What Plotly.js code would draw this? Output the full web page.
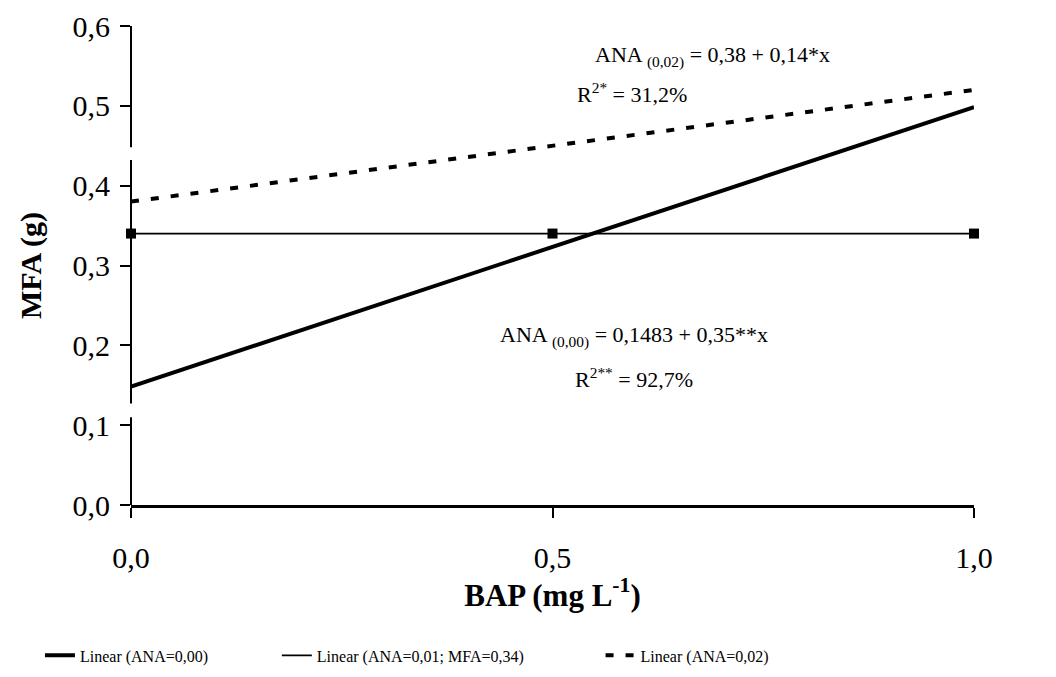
<!DOCTYPE html>
<html>
<head>
<meta charset="utf-8">
<script src="https://cdn.plot.ly/plotly-3.0.1.min.js"></script>
<style>
  html, body { margin: 0; padding: 0; background: #fff; }
  #chart { width: 1056px; height: 677px; }
</style>
</head>
<body>
<div id="chart"></div>
<script>
// BAP doses (mg L-1)
const bapDoses = [0, 0.5, 1.0];

// Fitted MFA (g) for each ANA level
const mfaAna000 = [0.1483, 0.3233, 0.4983];   // 0,1483 + 0,35x
const mfaAna001 = [0.34, 0.34, 0.34];         // mean 0,34
const mfaAna002 = [0.38, 0.45, 0.52];         // 0,38 + 0,14x

const seriesNames = [
  'Linear (ANA=0,00)',
  'Linear (ANA=0,01; MFA=0,34)',
  'Linear (ANA=0,02)'
];

const xTickVals = [0, 0.5, 1.0];
const xTickText = ['0,0', '0,5', '1,0'];
const yTickVals = [0, 0.1, 0.2, 0.3, 0.4, 0.5, 0.6];
const yTickText = ['0,0', '0,1', '0,2', '0,3', '0,4', '0,5', '0,6'];

const serif = 'Liberation Serif, Times New Roman, serif';
const legendFont = { family: serif, size: 16, color: '#000' };

const traces = [
  {
    x: bapDoses, y: mfaAna000, name: seriesNames[0], legend: 'legend',
    mode: 'lines', line: { color: '#000', width: 4 }
  },
  {
    x: bapDoses, y: mfaAna001, name: seriesNames[1], legend: 'legend2',
    mode: 'lines', line: { color: '#000', width: 1.8 }
  },
  {
    x: bapDoses, y: mfaAna002, name: seriesNames[2], legend: 'legend3',
    mode: 'lines', line: { color: '#000', width: 4, dash: '8px,12px' }
  },
  {
    // observed means at ANA=0,01
    x: bapDoses, y: mfaAna001, mode: 'markers', showlegend: false,
    marker: { symbol: 'square', size: 10, color: '#000' },
    cliponaxis: false
  }
];

function legendAt(xPos) {
  return {
    orientation: 'h', x: xPos, xanchor: 'left', y: -0.314, yanchor: 'middle',
    font: legendFont, bgcolor: 'rgba(0,0,0,0)'
  };
}

const layout = {
  width: 1056, height: 677,
  margin: { l: 131, r: 82, t: 26, b: 172, autoexpand: false },
  paper_bgcolor: '#fff', plot_bgcolor: '#fff',
  font: { family: serif, color: '#000' },
  showlegend: true,
  legend: legendAt(-0.108),
  legend2: legendAt(0.173),
  legend3: legendAt(0.557),
  xaxis: {
    range: [0, 1], tickvals: xTickVals, ticktext: xTickText,
    automargin: false,
    showgrid: false, zeroline: false,
    showline: true, linecolor: '#000', linewidth: 2.5,
    ticks: 'outside', ticklen: 10, tickwidth: 2, tickcolor: '#000',
    ticklabelstandoff: 14,
    tickfont: { family: serif, size: 30, color: '#000' },
    title: {
      text: '<b>BAP (mg L<sup>-1</sup>)</b>',
      font: { family: serif, size: 31, color: '#000' },
      standoff: 10
    }
  },
  yaxis: {
    range: [0, 0.6], tickvals: yTickVals, ticktext: yTickText,
    automargin: false,
    showgrid: false, zeroline: false, showline: false,
    ticks: 'outside', ticklen: 10, tickwidth: 2, tickcolor: '#000',
    ticklabelstandoff: 4,
    tickfont: { family: serif, size: 30, color: '#000' },
    title: {
      text: '<b>MFA (g)</b>',
      font: { family: serif, size: 30, color: '#000' },
      standoff: 22
    }
  },
  // vertical axis line, drawn in three pieces
  shapes: [
    { type: 'line', xref: 'paper', yref: 'y', x0: 0, x1: 0, y0: 0, y1: 0.110,
      line: { color: '#000', width: 2 } },
    { type: 'line', xref: 'paper', yref: 'y', x0: 0, x1: 0, y0: 0.127, y1: 0.432,
      line: { color: '#000', width: 2 } },
    { type: 'line', xref: 'paper', yref: 'y', x0: 0, x1: 0, y0: 0.448, y1: 0.6,
      line: { color: '#000', width: 2 } }
  ],
  annotations: [
    { x: 0.69, y: 0.562, xref: 'x', yref: 'y', showarrow: false,
      text: 'ANA <sub>(0,02)</sub> = 0,38 + 0,14*x',
      font: { family: serif, size: 22, color: '#000' } },
    { x: 0.594, y: 0.516, xref: 'x', yref: 'y', showarrow: false,
      text: 'R<sup>2*</sup> = 31,2%',
      font: { family: serif, size: 22, color: '#000' } },
    { x: 0.597, y: 0.211, xref: 'x', yref: 'y', showarrow: false,
      text: 'ANA <sub>(0,00)</sub> = 0,1483 + 0,35**x',
      font: { family: serif, size: 22, color: '#000' } },
    { x: 0.597, y: 0.159, xref: 'x', yref: 'y', showarrow: false,
      text: 'R<sup>2**</sup> = 92,7%',
      font: { family: serif, size: 22, color: '#000' } }
  ]
};

Plotly.newPlot('chart', traces, layout, { displayModeBar: false, staticPlot: true });
</script>
</body>
</html>
